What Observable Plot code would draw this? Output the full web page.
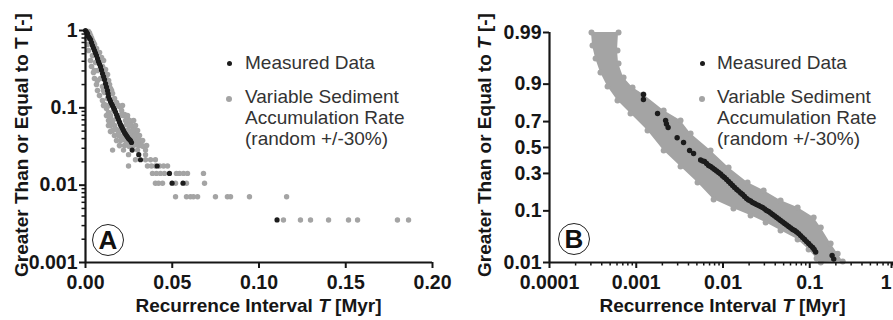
<!DOCTYPE html>
<html>
<head>
<meta charset="utf-8">
<script src="https://cdn.jsdelivr.net/npm/d3@7"></script>
<script src="https://cdn.jsdelivr.net/npm/@observablehq/plot@0.6"></script>
<style>
  html, body { margin: 0; padding: 0; background: #fff; }
  #wrap { position: relative; width: 893px; height: 320px; overflow: hidden;
          font-family: "Liberation Sans", Arial, Helvetica, sans-serif; }
  .panel { position: absolute; top: 0; height: 320px; }
  .panel svg { max-width: none !important; display: block; }
  .leg { position: absolute; font-size: 19px; line-height: 21px; color: #333; white-space: nowrap; }
  .ldot { position: absolute; border-radius: 50%; }
  .badge { position: absolute; width: 32px; height: 32px; box-sizing: border-box; border: 1.2px solid #222;
           border-radius: 50%; display: flex; align-items: center; justify-content: center;
           font-weight: bold; font-size: 26px; color: #111; background: #fff; }
</style>
</head>
<body>
<div id="wrap">
  <div class="panel" id="panelA" style="left:0px;width:440px"></div>
  <div class="panel" id="panelB" style="left:440px;width:470px"></div>

  <div class="ldot" style="left:226.5px;top:60.5px;width:5px;height:5px;background:#1c1c1c"></div>
  <div class="leg" style="left:245px;top:52px">Measured Data</div>
  <div class="ldot" style="left:226px;top:96px;width:6px;height:6px;background:#a4a4a4"></div>
  <div class="leg" style="left:245px;top:86px">Variable Sediment<br>Accumulation Rate<br>(random +/-30%)</div>

  <div class="ldot" style="left:699.5px;top:60.5px;width:5px;height:5px;background:#1c1c1c"></div>
  <div class="leg" style="left:717px;top:52px">Measured Data</div>
  <div class="ldot" style="left:699px;top:96px;width:6px;height:6px;background:#a4a4a4"></div>
  <div class="leg" style="left:717px;top:86px">Variable Sediment<br>Accumulation Rate<br>(random +/-30%)</div>

  <div class="badge" style="left:92px;top:224px">A</div>
  <div class="badge" style="left:558px;top:223px">B</div>
</div>
<script>
// ---------------- DATA ----------------
// Panel A: recurrence interval T [Myr] vs. fraction of intervals >= T (log axis)
const measuredA = [
  [0, 1], [0.00058, 0.956], [0.00115, 0.915], [0.00173, 0.836], [0.0023, 0.800], [0.00288, 0.765],
  [0.00346, 0.700], [0.00403, 0.640], [0.00461, 0.594], [0.00519, 0.551], [0.00576, 0.512],
  [0.00634, 0.475], [0.00692, 0.434], [0.00749, 0.397], [0.00807, 0.369], [0.00865, 0.342],
  [0.00922, 0.308], [0.0098, 0.278], [0.0104, 0.254], [0.01095, 0.232], [0.01153, 0.206],
  [0.0121, 0.186], [0.01268, 0.167], [0.0130, 0.153], [0.01326, 0.140], [0.01383, 0.130],
  [0.01441, 0.121], [0.01499, 0.1136], [0.01556, 0.107], [0.01614, 0.1009], [0.01671, 0.0951],
  [0.01729, 0.0882], [0.01787, 0.0819], [0.01844, 0.0760], [0.01902, 0.0706], [0.0196, 0.0655],
  [0.02017, 0.0608], [0.02075, 0.0573], [0.02133, 0.0540], [0.0219, 0.0508], [0.02248, 0.0479],
  [0.02305, 0.0458], [0.02363, 0.0438], [0.02421, 0.0419], [0.02478, 0.0401], [0.02536, 0.0389],
  [0.02594, 0.0378], [0.02651, 0.0356],
  [0.0269, 0.0284], [0.0307, 0.0248], [0.0317, 0.0213], [0.0413, 0.0177], [0.0484, 0.0142],
  [0.0499, 0.0106], [0.0562, 0.0106], [0.1104, 0.00355]
];
// Panel A simulated cloud (variable sediment accumulation rate)
const simCloudA = [
  [0.00173, 0.970], [0.0023, 0.93], [0.00288, 0.862], [0.00346, 0.80], [0.00403, 0.742], [0.00461, 0.70],
  [0.00519, 0.659], [0.00634, 0.585], [0.00807, 0.519], [0.00922, 0.447], [0.0104, 0.409],
  [0.0098, 0.342], [0.01153, 0.313], [0.01268, 0.270], [0.0121, 0.232], [0.01383, 0.200],
  [0.01441, 0.178], [0.01556, 0.153], [0.01671, 0.132], [0.01787, 0.117], [0.0196, 0.104],
  [0.02075, 0.0925], [0.02248, 0.0821], [0.02421, 0.0729], [0.02594, 0.0645], [0.02709, 0.0573],
  [0.02824, 0.0508], [0.0294, 0.0452], [0.03055, 0.0401], [0.0317, 0.0356], [0.03343, 0.0317],
  [0.00058, 0.788], [0.00115, 0.659], [0.00173, 0.551], [0.00288, 0.409], [0.00346, 0.342],
  [0.00461, 0.286], [0.00519, 0.239], [0.00634, 0.200], [0.00692, 0.167], [0.00807, 0.144],
  [0.0098, 0.124], [0.01095, 0.110], [0.0121, 0.098], [0.01326, 0.0872], [0.01441, 0.0751],
  [0.01556, 0.0664], [0.01671, 0.0590], [0.01787, 0.0523], [0.01902, 0.0465], [0.02075, 0.0426],
  [0.02248, 0.0390], [0.02421, 0.0356], [0.02536, 0.0317],
  [0.00403, 0.475], [0.00576, 0.386], [0.00692, 0.304], [0.00865, 0.239], [0.0098, 0.189],
  [0.01095, 0.158], [0.01268, 0.132], [0.01441, 0.110], [0.01614, 0.0925], [0.01787, 0.0729],
  [0.0196, 0.0645], [0.02133, 0.0573], [0.02305, 0.0508], [0.02478, 0.0465], [0.02651, 0.0426],
  [0.02824, 0.0378], [0.02997, 0.0336], [0.02017, 0.0797], [0.02363, 0.0608], [0.02767, 0.0479],
  [0.01441, 0.0493], [0.01326, 0.059],
  [0.0104, 0.107], [0.0133, 0.107], [0.0190, 0.107], [0.0213, 0.107],
  [0.0121, 0.0795], [0.0144, 0.0795], [0.0219, 0.0795], [0.0242, 0.0795],
  [0.0133, 0.0685], [0.0156, 0.0685], [0.0231, 0.0685], [0.0254, 0.0685], [0.0277, 0.0685],
  [0.0144, 0.0590], [0.0202, 0.0590], [0.0248, 0.0590], [0.0265, 0.0590], [0.0288, 0.0590],
  [0.0156, 0.0508], [0.0202, 0.0508], [0.0248, 0.0508], [0.0271, 0.0508], [0.0300, 0.0508],
  [0.0167, 0.0438], [0.0190, 0.0438], [0.0225, 0.0438], [0.0259, 0.0438], [0.0288, 0.0438], [0.0311, 0.0438],
  [0.0179, 0.0378], [0.0202, 0.0378], [0.0231, 0.0378], [0.0288, 0.0378], [0.0305, 0.0378], [0.0329, 0.0378],
  [0.0196, 0.0325], [0.0225, 0.0325], [0.0248, 0.0325], [0.0277, 0.0325], [0.0305, 0.0325], [0.0323, 0.0325], [0.0352, 0.0325],
  [0.0104, 0.167], [0.0150, 0.167], [0.0069, 0.226], [0.0133, 0.226], [0.0052, 0.304], [0.0110, 0.304]
];
// Panel A simulated tail: fractions and the T values found on each level
const simTailP = [0.0284, 0.0248, 0.0213, 0.0177, 0.0142, 0.0106, 0.00709, 0.00355];
const simTailT = [
  [0.0156, 0.0219, 0.0300, 0.0346],
  [0.0248, 0.0346],
  [0.0288, 0.0346, 0.0375, 0.0403],
  [0.0248, 0.0357, 0.0380, 0.0403, 0.0427, 0.0450, 0.0473],
  [0.0386, 0.0409, 0.0432, 0.0455, 0.0524, 0.0542, 0.0565, 0.0588, 0.0680],
  [0.0403, 0.0421, 0.0444, 0.0519, 0.0582, 0.0686],
  [0.0519, 0.0582, 0.0605, 0.0622, 0.0646, 0.0749, 0.0818, 0.0836, 0.0945, 0.1159],
  [0.1141, 0.1239, 0.1297, 0.1401, 0.1516, 0.1568, 0.1798, 0.1862]
];

// Panel B: log T vs. probability (normal probability axis)
const measuredB = [
  [0.00121, 0.858], [0.00121, 0.834], [0.00176, 0.754], [0.00218, 0.708], [0.00223, 0.683],
  [0.00233, 0.657], [0.00296, 0.578], [0.00351, 0.540], [0.00412, 0.476], [0.00458, 0.452],
  [0.00552, 0.400], [0.00613, 0.389], [0.00682, 0.358], [0.00759, 0.339], [0.00844, 0.317],
  [0.00938, 0.296], [0.0104, 0.272], [0.0116, 0.246], [0.0129, 0.221], [0.0144, 0.198],
  [0.0160, 0.179], [0.0177, 0.161], [0.0197, 0.144], [0.0219, 0.133], [0.0244, 0.124],
  [0.0272, 0.116], [0.0302, 0.107], [0.0336, 0.0975], [0.0373, 0.0875], [0.0415, 0.0782],
  [0.0461, 0.0697], [0.0513, 0.0620], [0.0571, 0.0549], [0.0635, 0.0485], [0.0706, 0.0436],
  [0.0785, 0.0374], [0.0873, 0.0313], [0.0971, 0.0260], [0.108, 0.0215], [0.117, 0.0172],
  [0.181, 0.0144], [0.189, 0.0120],
  [0.00582, 0.392], [0.00647, 0.373], [0.00719, 0.350], [0.0080, 0.328], [0.0089, 0.306],
  [0.00989, 0.282], [0.0110, 0.2585], [0.01224, 0.233], [0.0136, 0.209], [0.01514, 0.189],
  [0.01683, 0.1707], [0.0187, 0.151], [0.0208, 0.1394], [0.0232, 0.1285], [0.0258, 0.1202],
  [0.0286, 0.1122], [0.0318, 0.1011], [0.0354, 0.0924], [0.0394, 0.0828], [0.0438, 0.0739],
  [0.0487, 0.0658], [0.0542, 0.0583], [0.0603, 0.0516], [0.0670, 0.0465], [0.0745, 0.0408],
  [0.0828, 0.0342], [0.0920, 0.0285], [0.1023, 0.0236], [0.1125, 0.0195]
];
// Panel B simulated cloud: outer (upper/right) and inner (lower/left) edge of the dense band
const simBUpper = [
  [0.000625, 0.99], [0.000608, 0.9752], [0.000625, 0.9555], [0.000714, 0.9218], [0.000906, 0.8877],
  [0.00121, 0.858], [0.00207, 0.773], [0.00324, 0.708], [0.00423, 0.611], [0.00719, 0.476],
  [0.0116, 0.343], [0.0192, 0.239], [0.0294, 0.192], [0.0461, 0.142], [0.0725, 0.112],
  [0.111, 0.0782], [0.134, 0.0527], [0.174, 0.0260], [0.210, 0.0159], [0.240, 0.0105]
];
const simBLower = [
  [0.000305, 0.99], [0.000313, 0.9805], [0.00034, 0.9642], [0.000387, 0.9355], [0.000467, 0.8915],
  [0.000608, 0.829], [0.000859, 0.754], [0.00135, 0.635], [0.00207, 0.476], [0.00324, 0.350],
  [0.00509, 0.239], [0.0078, 0.146], [0.0132, 0.1085], [0.0208, 0.0843], [0.031, 0.0645],
  [0.0461, 0.0465], [0.0725, 0.0313], [0.0971, 0.0195], [0.120, 0.0123], [0.134, 0.0100]
];

// Axis ticks
const xTicksA = [0, 0.05, 0.10, 0.15, 0.20];
const xTickLabelsA = ["0.00", "0.05", "0.10", "0.15", "0.20"];
const yTicksA = [0.001, 0.01, 0.1, 1];
const yTickLabelsA = ["0.001", "0.01", "0.1", "1"];
const xTicksB = [0.0001, 0.001, 0.01, 0.1, 1];
const xTickLabelsB = ["0.0001", "0.001", "0.01", "0.1", "1"];
const yTicksB = [0.01, 0.1, 0.3, 0.5, 0.7, 0.9, 0.99];
const yTickLabelsB = ["0.01", "0.1", "0.3", "0.5", "0.7", "0.9", "0.99"];

// ---------------- helpers ----------------
const GRAY = "#a4a4a4", BLACK = "#1c1c1c", INK = "#161616";
const FONT = "'Liberation Sans', Arial, Helvetica, sans-serif";

// inverse standard normal CDF (Acklam) for the probability axis
function probit(p) {
  const a = [-3.969683028665376e+01, 2.209460984245205e+02, -2.759285104469687e+02, 1.383577518672690e+02, -3.066479806614716e+01, 2.506628277459239e+00];
  const b = [-5.447609879822406e+01, 1.615858368580409e+02, -1.556989798598866e+02, 6.680131188771972e+01, -1.328068155288572e+01];
  const c = [-7.784894002430293e-03, -3.223964580411365e-01, -2.400758277161838e+00, -2.549732539343734e+00, 4.374664141464968e+00, 2.938163982698783e+00];
  const d = [7.784695709041462e-03, 3.224671290700398e-01, 2.445134137142996e+00, 3.754408661907416e+00];
  const pl = 0.02425, ph = 1 - pl;
  let q, r;
  if (p < pl) { q = Math.sqrt(-2 * Math.log(p)); return (((((c[0]*q+c[1])*q+c[2])*q+c[3])*q+c[4])*q+c[5]) / ((((d[0]*q+d[1])*q+d[2])*q+d[3])*q+1); }
  if (p <= ph) { q = p - 0.5; r = q*q; return (((((a[0]*r+a[1])*r+a[2])*r+a[3])*r+a[4])*r+a[5])*q / (((((b[0]*r+b[1])*r+b[2])*r+b[3])*r+b[4])*r+1); }
  q = Math.sqrt(-2 * Math.log(1 - p));
  return -(((((c[0]*q+c[1])*q+c[2])*q+c[3])*q+c[4])*q+c[5]) / ((((d[0]*q+d[1])*q+d[2])*q+d[3])*q+1);
}
function minorLogTicks(e0, e1) {
  const t = [];
  for (let e = e0; e < e1; e++) for (let m = 2; m <= 9; m++) t.push(m * Math.pow(10, e));
  return t;
}
const styleOpts = { fontFamily: FONT, fontSize: "19.5px", fontWeight: "bold", color: INK,
                    background: "transparent", overflow: "visible", maxWidth: "none" };

function addTitles(svg, xc, xTitleY, yTitleX, yc, italicYT) {
  const s = d3.select(svg);
  const tx = s.append("text").attr("x", xc).attr("y", xTitleY).attr("text-anchor", "middle")
    .attr("fill", INK).attr("font-size", 19).attr("font-weight", "bold");
  tx.append("tspan").text("Recurrence Interval ");
  tx.append("tspan").attr("font-style", "italic").text("T");
  tx.append("tspan").text(" [Myr]");
  const ty = s.append("text").attr("transform", `translate(${yTitleX},${yc}) rotate(-90)`).attr("text-anchor", "middle")
    .attr("fill", INK).attr("font-size", 19).attr("font-weight", "bold");
  ty.append("tspan").text("Greater Than or Equal to ");
  ty.append("tspan").attr("font-style", italicYT ? "italic" : "normal").text("T");
  ty.append("tspan").text(" [-]");
}

// ---------------- Panel A ----------------
const simTailA = simTailP.flatMap((p, i) => simTailT[i].map(t => [t, p]));
const plotA = Plot.plot({
  width: 440, height: 320,
  marginLeft: 85, marginRight: 8, marginTop: 30, marginBottom: 58,
  style: styleOpts,
  x: { domain: [0, 0.2] },
  y: { type: "log", domain: [0.001, 1] },
  marks: [
    Plot.dot(simCloudA, { x: d => d[0], y: d => d[1], r: 2.8, fill: GRAY }),
    Plot.dot(simTailA, { x: d => d[0], y: d => d[1], r: 2.7, fill: GRAY }),
    Plot.dot(measuredA, { x: d => d[0], y: d => d[1], r: 2.6, fill: BLACK }),
    Plot.axisY({ ticks: minorLogTicks(-3, 0), tickSize: 3.5, tickFormat: () => "", strokeWidth: 1.5, label: null }),
    Plot.axisY({ ticks: yTicksA, tickSize: 6, tickPadding: 2, strokeWidth: 2, label: null,
                 tickFormat: d => yTickLabelsA[yTicksA.indexOf(d)] }),
    Plot.axisX({ ticks: xTicksA, tickSize: 6, tickPadding: 7, strokeWidth: 2, label: null,
                 tickFormat: d => xTickLabelsA[xTicksA.indexOf(d)] }),
    Plot.ruleX([0], { stroke: INK, strokeWidth: 2.2 }),
    Plot.ruleY([0.001], { stroke: INK, strokeWidth: 2.2 })
  ]
});
document.getElementById("panelA").appendChild(plotA);
{
  const xr = plotA.scale("x").range, yr = plotA.scale("y").range;
  addTitles(plotA, (xr[0] + xr[1]) / 2, 312, 28, (yr[0] + yr[1]) / 2 - 1, false);
}

// ---------------- Panel B ----------------
const bandB = simBUpper.map((u, i) => ({ tu: u[0], pu: u[1], tl: simBLower[i][0], pl: simBLower[i][1] }));
const yTicksBz = yTicksB.map(probit);
const lastB = xTicksB.length - 1;
const plotB = Plot.plot({
  width: 470, height: 320,
  marginLeft: 109, marginRight: 14, marginTop: 32, marginBottom: 58,
  style: styleOpts,
  x: { type: "log", domain: [0.0001, 1] },
  y: { domain: [probit(0.01), probit(0.99)] },
  marks: [
    Plot.area(bandB, { x1: "tu", y1: d => probit(d.pu), x2: "tl", y2: d => probit(d.pl), fill: GRAY }),
    Plot.dot(simBUpper, { x: d => d[0], y: d => probit(d[1]), r: 3, fill: GRAY }),
    Plot.dot(simBLower, { x: d => d[0], y: d => probit(d[1]), r: 3, fill: GRAY }),
    Plot.dot(measuredB, { x: d => d[0], y: d => probit(d[1]), r: 2.7, fill: BLACK }),
    Plot.axisX({ ticks: minorLogTicks(-4, 0), tickSize: 3.5, tickFormat: () => "", strokeWidth: 1.5, label: null }),
    Plot.axisX({ ticks: xTicksB.slice(0, lastB), tickSize: 6, tickPadding: 7, strokeWidth: 2, label: null,
                 tickFormat: d => xTickLabelsB[xTicksB.indexOf(d)] }),
    // the last label sits at the page edge: keep it readable by right-aligning it
    Plot.axisX({ ticks: [xTicksB[lastB]], tickSize: 6, tickPadding: 7, strokeWidth: 2, label: null,
                 textAnchor: "end", dx: -5, tickFormat: () => xTickLabelsB[lastB] }),
    Plot.axisY({ ticks: yTicksBz, tickSize: 6, tickPadding: 2, strokeWidth: 2, label: null,
                 tickFormat: z => yTickLabelsB[yTicksBz.indexOf(z)] }),
    Plot.ruleX([0.0001], { stroke: INK, strokeWidth: 2.2 }),
    Plot.ruleY([probit(0.01)], { stroke: INK, strokeWidth: 2.2 })
  ]
});
document.getElementById("panelB").appendChild(plotB);
{
  const xr = plotB.scale("x").range, yr = plotB.scale("y").range;
  addTitles(plotB, (xr[0] + xr[1]) / 2, 312, 51, (yr[0] + yr[1]) / 2 - 2, true);
}
</script>
</body>
</html>
